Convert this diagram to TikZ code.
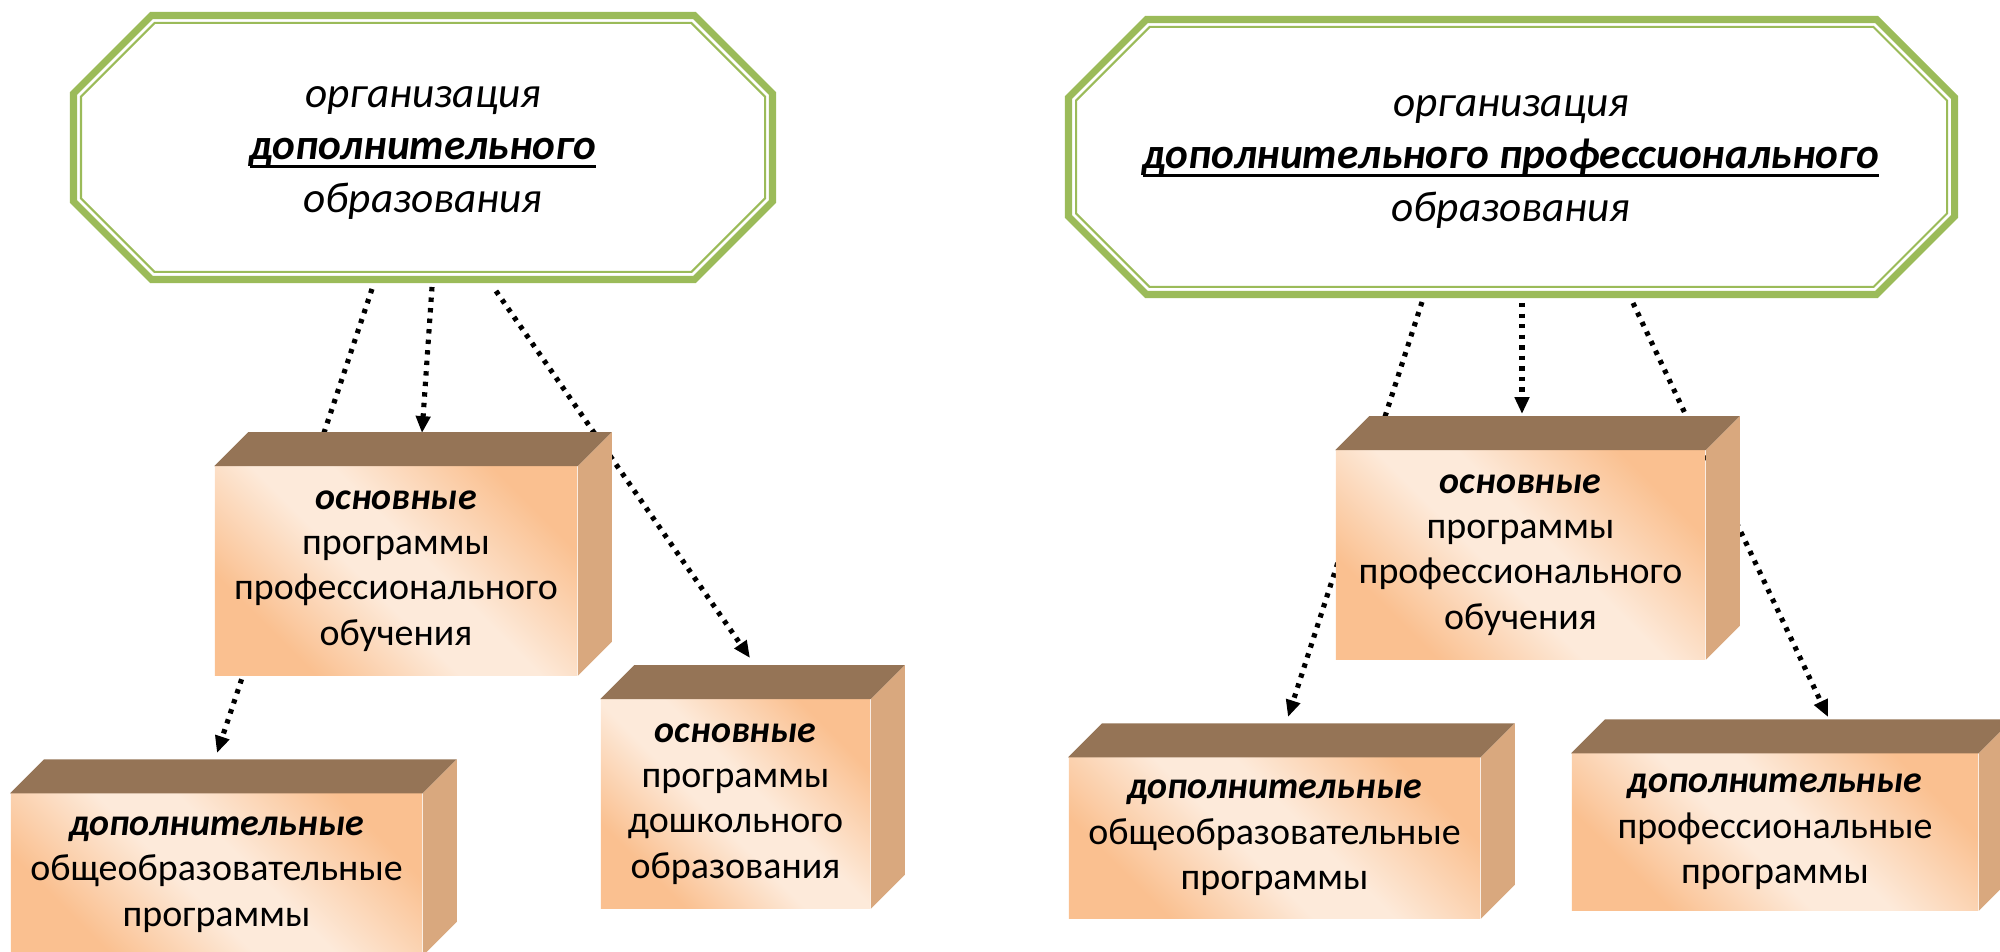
\documentclass[tikz,border=0pt]{standalone}
\usepackage{fontspec}
\setmainfont{Carlito}
\usetikzlibrary{arrows.meta}
\definecolor{olivegreen}{RGB}{155,187,89}
\definecolor{peachlite}{RGB}{253,234,218}
\definecolor{peachorng}{RGB}{250,192,144}
\definecolor{boxtop}{RGB}{149,116,86}
\definecolor{boxside}{RGB}{217,168,126}
\pgfdeclarehorizontalshading{peachshade}{100bp}{color(0bp)=(peachorng); color(27bp)=(peachorng); color(45bp)=(peachlite); color(55bp)=(peachlite); color(75bp)=(peachorng); color(100bp)=(peachorng)}
\newcommand{\ulx}[1]{\setbox0=\hbox{#1}\rlap{\rule[-2.4pt]{\wd0}{0.85pt}}\box0}
\newcommand{\octpath}[5]{(#1+#5,#2) -- (#3-#5,#2) -- (#3,#2+#5) -- (#3,#4-#5) -- (#3-#5,#4) -- (#1+#5,#4) -- (#1,#4-#5) -- (#1,#2+#5) -- cycle}
\tikzset{
  octthick/.style={draw=olivegreen, line width=2pt, line join=miter, fill=white},
  octthin/.style={draw=olivegreen, line width=0.57pt, line join=miter},
  octtext/.style={align=center, inner sep=0pt, font=\fontsize{12.3}{15}\selectfont},
  frontface/.style={shade, shading=peachshade, shading angle=45, inner sep=0pt, align=center, font=\fontsize{10.8}{12.9}\selectfont},
  topface/.style={fill=boxtop},
  sideface/.style={fill=boxside},
  dotline/.style={line width=1.45pt, dash pattern=on 1.25pt off 1.75pt, line cap=butt, -{Triangle[length=4.8pt,width=4pt]}}
}
\begin{document}
\begin{tikzpicture}[x=0.01cm, y=-0.01cm]
\useasboundingbox (0,0) rectangle (2000,952);
% connector end points
\coordinate (sB) at (372,289);
\coordinate (tB) at (217,753);
\coordinate (sA) at (432,287);
\coordinate (tA) at (422,433);
\coordinate (sC) at (496,291);
\coordinate (tC) at (750,658);
\coordinate (sD) at (1522,303);
\coordinate (tD) at (1522,414);
\coordinate (sE) at (1422,302);
\coordinate (tE) at (1288,717);
\coordinate (sF) at (1633,303);
\coordinate (tF) at (1828,717);
% connectors (behind boxes)
\draw[dotline] (sB) -- (tB);
\draw[dotline] (sA) -- (tA);
\draw[dotline] (sC) -- (tC);
\draw[dotline] (sD) -- (tD);
\draw[dotline] (sE) -- (tE);
\draw[dotline] (sF) -- (tF);
% octagons
\draw[octthick] \octpath{73.5}{15.5}{772.5}{279.5}{78};
\draw[octthin] \octpath{81}{23}{765}{272}{73.6};
\draw[octthick] \octpath{1068.5}{19.5}{1954.5}{294.5}{78};
\draw[octthin] \octpath{1076}{27}{1947}{287}{73.6};
\node[octtext] (o1) at (423,153) {\textit{организация}\\ \ulx{\textbf{\textit{дополнительного}}}\\ \textit{образования}};
\node[octtext] (o2) at (1511,162) {\textit{организация}\\ \ulx{\textbf{\textit{дополнительного профессионального}}}\\ \textit{образования}};
% boxes
\node[frontface, minimum width=3.62cm, minimum height=2.08cm] (A) at (396,571) {\textbf{\textit{основные}}\\ программы\\ профессионального\\ обучения};
\node[frontface, minimum width=4.11cm, minimum height=1.61cm] (B) at (216.5,874.5) {\textbf{\textit{дополнительные}}\\ общеобразовательные\\ программы};
\node[frontface, minimum width=2.69cm, minimum height=2.08cm] (C) at (735.5,804) {\textbf{\textit{основные}}\\ программы\\ дошкольного\\ образования};
\node[frontface, minimum width=3.69cm, minimum height=2.08cm] (D) at (1520.5,555) {\textbf{\textit{основные}}\\ программы\\ профессионального\\ обучения};
\node[frontface, minimum width=4.11cm, minimum height=1.60cm] (E) at (1274.5,838) {\textbf{\textit{дополнительные}}\\ общеобразовательные\\ программы};
\node[frontface, minimum width=4.06cm, minimum height=1.56cm] (F) at (1775,832) {\textbf{\textit{дополнительные}}\\ профессиональные\\ программы};
\foreach \b in {A,B,C,D,E,F}{
  \fill[topface] (\b.north west) -- (\b.north east) -- ++(34,-34) -- ([shift={(34,-34)}]\b.north west) -- cycle;
  \fill[sideface] (\b.north east) -- ++(34,-34) -- ([shift={(34,-34)}]\b.south east) -- (\b.south east) -- cycle;
}
\end{tikzpicture}
\end{document}
